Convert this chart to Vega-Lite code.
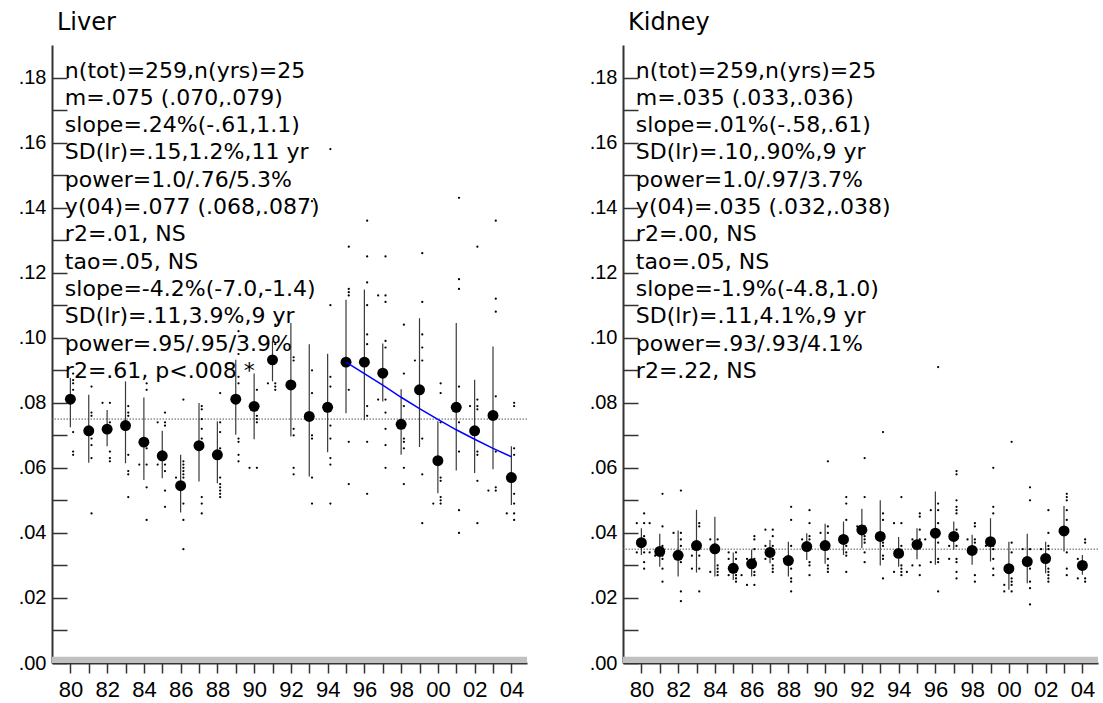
{
  "$schema": "https://vega.github.io/schema/vega-lite/v6.json",
  "background": "white",
  "padding": {"left": 18, "top": 11, "right": 0, "bottom": 0},
  "bounds": "flush",
  "spacing": 96,
  "config": {
    "view": {"stroke": null},
    "axis": {"labelColor": "#000", "domainColor": "#333", "domainWidth": 2, "tickColor": "#333", "tickWidth": 1.5, "grid": false},
    "title": {"anchor": "start", "frame": "group", "font": "DejaVu Sans", "fontSize": 24, "fontWeight": "normal", "color": "#000", "offset": 10, "dx": 5}
  },
  "datasets": {
    "info": [
      {"organ": "Liver", "m": 0.075, "stats": "n(tot)=259,n(yrs)=25\nm=.075 (.070,.079)\nslope=.24%(-.61,1.1)\nSD(lr)=.15,1.2%,11 yr\npower=1.0/.76/5.3%\ny(04)=.077 (.068,.087)\nr2=.01, NS\ntao=.05, NS\nslope=-4.2%(-7.0,-1.4)\nSD(lr)=.11,3.9%,9 yr\npower=.95/.95/3.9%\nr2=.61, p<.008 *"},
      {"organ": "Kidney", "m": 0.035, "stats": "n(tot)=259,n(yrs)=25\nm=.035 (.033,.036)\nslope=.01%(-.58,.61)\nSD(lr)=.10,.90%,9 yr\npower=1.0/.97/3.7%\ny(04)=.035 (.032,.038)\nr2=.00, NS\ntao=.05, NS\nslope=-1.9%(-4.8,1.0)\nSD(lr)=.11,4.1%,9 yr\npower=.93/.93/4.1%\nr2=.22, NS"}
    ],
    "liver_fit": [
      {"year": 1995, "fit": 0.0925}, {"year": 1996, "fit": 0.0890}, {"year": 1997, "fit": 0.0854}, {"year": 1998, "fit": 0.0817}, {"year": 1999, "fit": 0.0782},
      {"year": 2000, "fit": 0.0749}, {"year": 2001, "fit": 0.0717}, {"year": 2002, "fit": 0.0688}, {"year": 2003, "fit": 0.0660}, {"year": 2004, "fit": 0.0634}
    ],
    "liver_yrs": [
      {"year": 1980, "mean": 0.0811, "lo": 0.0725, "hi": 0.0876},
      {"year": 1981, "mean": 0.0714, "lo": 0.0616, "hi": 0.0825},
      {"year": 1982, "mean": 0.0719, "lo": 0.0666, "hi": 0.0778},
      {"year": 1983, "mean": 0.0730, "lo": 0.0614, "hi": 0.0866},
      {"year": 1984, "mean": 0.0679, "lo": 0.0563, "hi": 0.0816},
      {"year": 1985, "mean": 0.0637, "lo": 0.0568, "hi": 0.0714},
      {"year": 1986, "mean": 0.0545, "lo": 0.0463, "hi": 0.0640},
      {"year": 1987, "mean": 0.0668, "lo": 0.0558, "hi": 0.0799},
      {"year": 1988, "mean": 0.0640, "lo": 0.0553, "hi": 0.0743},
      {"year": 1989, "mean": 0.0811, "lo": 0.0702, "hi": 0.0932},
      {"year": 1990, "mean": 0.0789, "lo": 0.0688, "hi": 0.0890},
      {"year": 1991, "mean": 0.0932, "lo": 0.0866, "hi": 0.0990},
      {"year": 1992, "mean": 0.0855, "lo": 0.0696, "hi": 0.1045},
      {"year": 1993, "mean": 0.0758, "lo": 0.0573, "hi": 0.0980},
      {"year": 1994, "mean": 0.0786, "lo": 0.0648, "hi": 0.0951},
      {"year": 1995, "mean": 0.0925, "lo": 0.0768, "hi": 0.1117},
      {"year": 1996, "mean": 0.0925, "lo": 0.0746, "hi": 0.1148},
      {"year": 1997, "mean": 0.0891, "lo": 0.0804, "hi": 0.0982},
      {"year": 1998, "mean": 0.0734, "lo": 0.0640, "hi": 0.0842},
      {"year": 1999, "mean": 0.0840, "lo": 0.0664, "hi": 0.1060},
      {"year": 2000, "mean": 0.0622, "lo": 0.0522, "hi": 0.0743},
      {"year": 2001, "mean": 0.0786, "lo": 0.0592, "hi": 0.1045},
      {"year": 2002, "mean": 0.0714, "lo": 0.0584, "hi": 0.0871},
      {"year": 2003, "mean": 0.0761, "lo": 0.0596, "hi": 0.0973},
      {"year": 2004, "mean": 0.0570, "lo": 0.0486, "hi": 0.0666}
    ],
    "kidney_yrs": [
      {"year": 1980, "mean": 0.0370, "lo": 0.0332, "hi": 0.0414},
      {"year": 1981, "mean": 0.0343, "lo": 0.0296, "hi": 0.0397},
      {"year": 1982, "mean": 0.0331, "lo": 0.0266, "hi": 0.0407},
      {"year": 1983, "mean": 0.0361, "lo": 0.0278, "hi": 0.0471},
      {"year": 1984, "mean": 0.0351, "lo": 0.0266, "hi": 0.0450},
      {"year": 1985, "mean": 0.0291, "lo": 0.0255, "hi": 0.0340},
      {"year": 1986, "mean": 0.0305, "lo": 0.0266, "hi": 0.0348},
      {"year": 1987, "mean": 0.0340, "lo": 0.0307, "hi": 0.0378},
      {"year": 1988, "mean": 0.0315, "lo": 0.0266, "hi": 0.0373},
      {"year": 1989, "mean": 0.0358, "lo": 0.0317, "hi": 0.0399},
      {"year": 1990, "mean": 0.0361, "lo": 0.0305, "hi": 0.0428},
      {"year": 1991, "mean": 0.0380, "lo": 0.0332, "hi": 0.0435},
      {"year": 1992, "mean": 0.0409, "lo": 0.0353, "hi": 0.0474},
      {"year": 1993, "mean": 0.0389, "lo": 0.0300, "hi": 0.0500},
      {"year": 1994, "mean": 0.0337, "lo": 0.0296, "hi": 0.0387},
      {"year": 1995, "mean": 0.0364, "lo": 0.0319, "hi": 0.0414},
      {"year": 1996, "mean": 0.0399, "lo": 0.0302, "hi": 0.0527},
      {"year": 1997, "mean": 0.0389, "lo": 0.0348, "hi": 0.0435},
      {"year": 1998, "mean": 0.0346, "lo": 0.0302, "hi": 0.0394},
      {"year": 1999, "mean": 0.0373, "lo": 0.0312, "hi": 0.0445},
      {"year": 2000, "mean": 0.0290, "lo": 0.0225, "hi": 0.0373},
      {"year": 2001, "mean": 0.0312, "lo": 0.0245, "hi": 0.0397},
      {"year": 2002, "mean": 0.0321, "lo": 0.0276, "hi": 0.0373},
      {"year": 2003, "mean": 0.0406, "lo": 0.0343, "hi": 0.0483},
      {"year": 2004, "mean": 0.0300, "lo": 0.0271, "hi": 0.0332}
    ],
    "liver_pts": [
      {"t": 1980.15, "v": 0.089}, {"t": 1980.15, "v": 0.087}, {"t": 1980.15, "v": 0.086}, {"t": 1980.15, "v": 0.084}, {"t": 1980.15, "v": 0.071}, {"t": 1980.15, "v": 0.065}, {"t": 1980.15, "v": 0.064},
      {"t": 1981.15, "v": 0.085}, {"t": 1981.15, "v": 0.077}, {"t": 1981.15, "v": 0.076}, {"t": 1981.15, "v": 0.069}, {"t": 1981.15, "v": 0.067}, {"t": 1981.15, "v": 0.063}, {"t": 1981.15, "v": 0.046},
      {"t": 1981.75, "v": 0.080}, {"t": 1982.15, "v": 0.080}, {"t": 1982.15, "v": 0.074}, {"t": 1982.15, "v": 0.071}, {"t": 1982.15, "v": 0.065}, {"t": 1982.15, "v": 0.063}, {"t": 1982.15, "v": 0.062},
      {"t": 1983.15, "v": 0.079}, {"t": 1983.15, "v": 0.077}, {"t": 1983.15, "v": 0.076}, {"t": 1983.15, "v": 0.064}, {"t": 1983.15, "v": 0.059}, {"t": 1983.15, "v": 0.058}, {"t": 1983.15, "v": 0.051},
      {"t": 1984.15, "v": 0.086}, {"t": 1984.15, "v": 0.084}, {"t": 1984.15, "v": 0.066}, {"t": 1984.15, "v": 0.061}, {"t": 1984.15, "v": 0.054}, {"t": 1984.15, "v": 0.044}, {"t": 1983.75, "v": 0.061},
      {"t": 1985.15, "v": 0.077}, {"t": 1985.15, "v": 0.074}, {"t": 1985.15, "v": 0.073}, {"t": 1985.15, "v": 0.061}, {"t": 1985.15, "v": 0.059}, {"t": 1985.15, "v": 0.053}, {"t": 1985.15, "v": 0.048}, {"t": 1984.75, "v": 0.074}, {"t": 1984.75, "v": 0.061},
      {"t": 1986.15, "v": 0.081}, {"t": 1986.15, "v": 0.062}, {"t": 1986.15, "v": 0.061}, {"t": 1986.15, "v": 0.060}, {"t": 1986.15, "v": 0.059}, {"t": 1986.15, "v": 0.058}, {"t": 1986.15, "v": 0.057}, {"t": 1986.15, "v": 0.049}, {"t": 1986.15, "v": 0.044}, {"t": 1986.15, "v": 0.035}, {"t": 1985.75, "v": 0.057},
      {"t": 1987.15, "v": 0.079}, {"t": 1987.15, "v": 0.078}, {"t": 1987.15, "v": 0.075}, {"t": 1987.15, "v": 0.072}, {"t": 1987.15, "v": 0.069}, {"t": 1987.15, "v": 0.051}, {"t": 1987.15, "v": 0.049}, {"t": 1987.15, "v": 0.046},
      {"t": 1988.15, "v": 0.083}, {"t": 1988.15, "v": 0.074}, {"t": 1988.15, "v": 0.071}, {"t": 1988.15, "v": 0.066}, {"t": 1988.15, "v": 0.065}, {"t": 1988.15, "v": 0.057}, {"t": 1988.15, "v": 0.055}, {"t": 1988.15, "v": 0.054}, {"t": 1988.15, "v": 0.053}, {"t": 1988.15, "v": 0.052}, {"t": 1988.15, "v": 0.051},
      {"t": 1989.15, "v": 0.102}, {"t": 1989.15, "v": 0.095}, {"t": 1989.15, "v": 0.088}, {"t": 1989.15, "v": 0.086}, {"t": 1989.15, "v": 0.069}, {"t": 1989.15, "v": 0.068}, {"t": 1989.15, "v": 0.064}, {"t": 1989.15, "v": 0.062},
      {"t": 1990.15, "v": 0.084}, {"t": 1990.15, "v": 0.076}, {"t": 1990.15, "v": 0.075}, {"t": 1990.15, "v": 0.074}, {"t": 1990.15, "v": 0.060}, {"t": 1989.75, "v": 0.060},
      {"t": 1991.15, "v": 0.104}, {"t": 1991.15, "v": 0.098}, {"t": 1991.15, "v": 0.086}, {"t": 1991.15, "v": 0.085}, {"t": 1991.15, "v": 0.084}, {"t": 1990.75, "v": 0.086},
      {"t": 1992.15, "v": 0.094}, {"t": 1992.15, "v": 0.093}, {"t": 1992.15, "v": 0.072}, {"t": 1992.15, "v": 0.070}, {"t": 1992.15, "v": 0.060}, {"t": 1992.15, "v": 0.058},
      {"t": 1993.15, "v": 0.142}, {"t": 1993.15, "v": 0.090}, {"t": 1993.15, "v": 0.083}, {"t": 1993.15, "v": 0.070}, {"t": 1993.15, "v": 0.069}, {"t": 1993.15, "v": 0.057}, {"t": 1993.15, "v": 0.049},
      {"t": 1994.15, "v": 0.158}, {"t": 1994.15, "v": 0.110}, {"t": 1994.15, "v": 0.088}, {"t": 1994.15, "v": 0.085}, {"t": 1994.15, "v": 0.073}, {"t": 1994.15, "v": 0.069}, {"t": 1994.15, "v": 0.063}, {"t": 1994.15, "v": 0.061}, {"t": 1994.15, "v": 0.049},
      {"t": 1995.15, "v": 0.128}, {"t": 1995.15, "v": 0.115}, {"t": 1995.15, "v": 0.114}, {"t": 1995.15, "v": 0.113}, {"t": 1995.15, "v": 0.084}, {"t": 1995.15, "v": 0.068}, {"t": 1995.15, "v": 0.055},
      {"t": 1996.15, "v": 0.136}, {"t": 1996.15, "v": 0.125}, {"t": 1996.15, "v": 0.117}, {"t": 1996.15, "v": 0.110}, {"t": 1996.15, "v": 0.101}, {"t": 1996.15, "v": 0.098}, {"t": 1996.15, "v": 0.079}, {"t": 1996.15, "v": 0.076}, {"t": 1996.15, "v": 0.068}, {"t": 1996.15, "v": 0.052},
      {"t": 1997.15, "v": 0.125}, {"t": 1997.15, "v": 0.113}, {"t": 1997.15, "v": 0.111}, {"t": 1997.15, "v": 0.099}, {"t": 1997.15, "v": 0.097}, {"t": 1997.15, "v": 0.081}, {"t": 1997.15, "v": 0.077}, {"t": 1997.15, "v": 0.072}, {"t": 1997.15, "v": 0.067}, {"t": 1997.15, "v": 0.060}, {"t": 1996.75, "v": 0.113}, {"t": 1996.75, "v": 0.081},
      {"t": 1998.15, "v": 0.104}, {"t": 1998.15, "v": 0.089}, {"t": 1998.15, "v": 0.079}, {"t": 1998.15, "v": 0.069}, {"t": 1998.15, "v": 0.068}, {"t": 1998.15, "v": 0.066}, {"t": 1998.15, "v": 0.060}, {"t": 1998.15, "v": 0.055},
      {"t": 1999.15, "v": 0.126}, {"t": 1999.15, "v": 0.111}, {"t": 1999.15, "v": 0.101}, {"t": 1999.15, "v": 0.097}, {"t": 1999.15, "v": 0.093}, {"t": 1999.15, "v": 0.069}, {"t": 1999.15, "v": 0.058}, {"t": 1999.15, "v": 0.043}, {"t": 1998.75, "v": 0.093},
      {"t": 2000.15, "v": 0.086}, {"t": 2000.15, "v": 0.083}, {"t": 2000.15, "v": 0.074}, {"t": 2000.15, "v": 0.057}, {"t": 2000.15, "v": 0.056}, {"t": 2000.15, "v": 0.051}, {"t": 2000.15, "v": 0.050}, {"t": 2000.15, "v": 0.049}, {"t": 1999.75, "v": 0.049},
      {"t": 2001.15, "v": 0.143}, {"t": 2001.15, "v": 0.118}, {"t": 2001.15, "v": 0.115}, {"t": 2001.15, "v": 0.085}, {"t": 2001.15, "v": 0.074}, {"t": 2001.15, "v": 0.065}, {"t": 2001.15, "v": 0.047}, {"t": 2001.15, "v": 0.040},
      {"t": 2002.15, "v": 0.128}, {"t": 2002.15, "v": 0.081}, {"t": 2002.15, "v": 0.079}, {"t": 2002.15, "v": 0.078}, {"t": 2002.15, "v": 0.065}, {"t": 2002.15, "v": 0.064}, {"t": 2002.15, "v": 0.056}, {"t": 2002.15, "v": 0.043}, {"t": 2001.75, "v": 0.079},
      {"t": 2003.15, "v": 0.136}, {"t": 2003.15, "v": 0.112}, {"t": 2003.15, "v": 0.108}, {"t": 2003.15, "v": 0.082}, {"t": 2003.15, "v": 0.065}, {"t": 2003.15, "v": 0.054}, {"t": 2003.15, "v": 0.053}, {"t": 2002.75, "v": 0.053},
      {"t": 2004.15, "v": 0.080}, {"t": 2004.15, "v": 0.079}, {"t": 2004.15, "v": 0.066}, {"t": 2004.15, "v": 0.064}, {"t": 2004.15, "v": 0.052}, {"t": 2004.15, "v": 0.049}, {"t": 2004.15, "v": 0.046}, {"t": 2004.15, "v": 0.044}, {"t": 2003.75, "v": 0.046}
    ],
    "kidney_pts": [
      {"t": 1980.15, "v": 0.046}, {"t": 1980.15, "v": 0.043}, {"t": 1980.15, "v": 0.039}, {"t": 1980.15, "v": 0.034}, {"t": 1980.15, "v": 0.031}, {"t": 1980.15, "v": 0.029}, {"t": 1979.75, "v": 0.043}, {"t": 1979.75, "v": 0.034}, {"t": 1980.45, "v": 0.043}, {"t": 1980.45, "v": 0.034},
      {"t": 1981.15, "v": 0.052}, {"t": 1981.15, "v": 0.042}, {"t": 1981.15, "v": 0.036}, {"t": 1981.15, "v": 0.033}, {"t": 1981.15, "v": 0.032}, {"t": 1981.15, "v": 0.029}, {"t": 1981.15, "v": 0.025}, {"t": 1980.75, "v": 0.033},
      {"t": 1982.15, "v": 0.053}, {"t": 1982.15, "v": 0.040}, {"t": 1982.15, "v": 0.038}, {"t": 1982.15, "v": 0.036}, {"t": 1982.15, "v": 0.033}, {"t": 1982.15, "v": 0.031}, {"t": 1982.15, "v": 0.022}, {"t": 1982.15, "v": 0.019}, {"t": 1981.75, "v": 0.040},
      {"t": 1983.15, "v": 0.043}, {"t": 1983.15, "v": 0.042}, {"t": 1983.15, "v": 0.036}, {"t": 1983.15, "v": 0.033}, {"t": 1983.15, "v": 0.029}, {"t": 1983.15, "v": 0.022}, {"t": 1982.75, "v": 0.033}, {"t": 1982.75, "v": 0.029},
      {"t": 1984.15, "v": 0.038}, {"t": 1984.15, "v": 0.030}, {"t": 1984.15, "v": 0.029}, {"t": 1984.15, "v": 0.028}, {"t": 1984.15, "v": 0.027}, {"t": 1983.75, "v": 0.038}, {"t": 1983.75, "v": 0.028},
      {"t": 1985.15, "v": 0.034}, {"t": 1985.15, "v": 0.032}, {"t": 1985.15, "v": 0.029}, {"t": 1985.15, "v": 0.028}, {"t": 1985.15, "v": 0.027}, {"t": 1985.15, "v": 0.026}, {"t": 1985.15, "v": 0.025}, {"t": 1984.75, "v": 0.034}, {"t": 1984.75, "v": 0.032}, {"t": 1984.75, "v": 0.027}, {"t": 1985.45, "v": 0.027},
      {"t": 1986.15, "v": 0.039}, {"t": 1986.15, "v": 0.038}, {"t": 1986.15, "v": 0.035}, {"t": 1986.15, "v": 0.032}, {"t": 1986.15, "v": 0.028}, {"t": 1986.15, "v": 0.027}, {"t": 1986.15, "v": 0.024}, {"t": 1985.75, "v": 0.032}, {"t": 1985.75, "v": 0.024},
      {"t": 1987.15, "v": 0.041}, {"t": 1987.15, "v": 0.039}, {"t": 1987.15, "v": 0.036}, {"t": 1987.15, "v": 0.032}, {"t": 1987.15, "v": 0.030}, {"t": 1987.15, "v": 0.029}, {"t": 1987.15, "v": 0.028}, {"t": 1986.75, "v": 0.041}, {"t": 1986.75, "v": 0.036}, {"t": 1986.75, "v": 0.032},
      {"t": 1988.15, "v": 0.048}, {"t": 1988.15, "v": 0.044}, {"t": 1988.15, "v": 0.036}, {"t": 1988.15, "v": 0.032}, {"t": 1988.15, "v": 0.029}, {"t": 1988.15, "v": 0.026}, {"t": 1988.15, "v": 0.025}, {"t": 1988.15, "v": 0.022}, {"t": 1987.75, "v": 0.032},
      {"t": 1989.15, "v": 0.047}, {"t": 1989.15, "v": 0.043}, {"t": 1989.15, "v": 0.039}, {"t": 1989.15, "v": 0.038}, {"t": 1989.15, "v": 0.031}, {"t": 1989.15, "v": 0.030}, {"t": 1989.15, "v": 0.027}, {"t": 1988.75, "v": 0.038},
      {"t": 1990.15, "v": 0.062}, {"t": 1990.15, "v": 0.042}, {"t": 1990.15, "v": 0.040}, {"t": 1990.15, "v": 0.035}, {"t": 1990.15, "v": 0.032}, {"t": 1990.15, "v": 0.030}, {"t": 1990.15, "v": 0.029}, {"t": 1990.15, "v": 0.028}, {"t": 1989.75, "v": 0.040},
      {"t": 1991.15, "v": 0.051}, {"t": 1991.15, "v": 0.049}, {"t": 1991.15, "v": 0.044}, {"t": 1991.15, "v": 0.036}, {"t": 1991.15, "v": 0.034}, {"t": 1991.15, "v": 0.033}, {"t": 1991.15, "v": 0.028},
      {"t": 1992.15, "v": 0.063}, {"t": 1992.15, "v": 0.051}, {"t": 1992.15, "v": 0.042}, {"t": 1992.15, "v": 0.039}, {"t": 1992.15, "v": 0.038}, {"t": 1992.15, "v": 0.037}, {"t": 1992.15, "v": 0.034}, {"t": 1992.15, "v": 0.031}, {"t": 1991.75, "v": 0.042},
      {"t": 1993.15, "v": 0.071}, {"t": 1993.15, "v": 0.046}, {"t": 1993.15, "v": 0.044}, {"t": 1993.15, "v": 0.039}, {"t": 1993.15, "v": 0.037}, {"t": 1993.15, "v": 0.036}, {"t": 1993.15, "v": 0.033}, {"t": 1993.15, "v": 0.032}, {"t": 1993.15, "v": 0.026},
      {"t": 1994.15, "v": 0.051}, {"t": 1994.15, "v": 0.043}, {"t": 1994.15, "v": 0.036}, {"t": 1994.15, "v": 0.030}, {"t": 1994.15, "v": 0.029}, {"t": 1994.15, "v": 0.028}, {"t": 1994.15, "v": 0.027}, {"t": 1993.75, "v": 0.043}, {"t": 1993.75, "v": 0.028}, {"t": 1994.45, "v": 0.028},
      {"t": 1995.15, "v": 0.046}, {"t": 1995.15, "v": 0.045}, {"t": 1995.15, "v": 0.041}, {"t": 1995.15, "v": 0.038}, {"t": 1995.15, "v": 0.030}, {"t": 1995.15, "v": 0.027}, {"t": 1994.75, "v": 0.038}, {"t": 1994.75, "v": 0.030}, {"t": 1995.45, "v": 0.038},
      {"t": 1996.15, "v": 0.091}, {"t": 1996.15, "v": 0.049}, {"t": 1996.15, "v": 0.047}, {"t": 1996.15, "v": 0.043}, {"t": 1996.15, "v": 0.037}, {"t": 1996.15, "v": 0.032}, {"t": 1996.15, "v": 0.031}, {"t": 1996.15, "v": 0.022}, {"t": 1995.75, "v": 0.047}, {"t": 1995.75, "v": 0.031},
      {"t": 1997.15, "v": 0.059}, {"t": 1997.15, "v": 0.058}, {"t": 1997.15, "v": 0.050}, {"t": 1997.15, "v": 0.048}, {"t": 1997.15, "v": 0.047}, {"t": 1997.15, "v": 0.046}, {"t": 1997.15, "v": 0.041}, {"t": 1997.15, "v": 0.036}, {"t": 1997.15, "v": 0.032}, {"t": 1997.15, "v": 0.031}, {"t": 1997.15, "v": 0.028}, {"t": 1997.15, "v": 0.026}, {"t": 1996.75, "v": 0.036}, {"t": 1996.75, "v": 0.032},
      {"t": 1998.15, "v": 0.043}, {"t": 1998.15, "v": 0.042}, {"t": 1998.15, "v": 0.038}, {"t": 1998.15, "v": 0.037}, {"t": 1998.15, "v": 0.027}, {"t": 1998.15, "v": 0.025}, {"t": 1997.75, "v": 0.038},
      {"t": 1999.15, "v": 0.060}, {"t": 1999.15, "v": 0.048}, {"t": 1999.15, "v": 0.046}, {"t": 1999.15, "v": 0.036}, {"t": 1999.15, "v": 0.035}, {"t": 1999.15, "v": 0.032}, {"t": 1999.15, "v": 0.029}, {"t": 1999.15, "v": 0.027}, {"t": 1998.75, "v": 0.036},
      {"t": 2000.15, "v": 0.068}, {"t": 2000.15, "v": 0.037}, {"t": 2000.15, "v": 0.034}, {"t": 2000.15, "v": 0.026}, {"t": 2000.15, "v": 0.025}, {"t": 2000.15, "v": 0.024}, {"t": 2000.15, "v": 0.022}, {"t": 1999.75, "v": 0.024}, {"t": 1999.75, "v": 0.022},
      {"t": 2001.15, "v": 0.054}, {"t": 2001.15, "v": 0.050}, {"t": 2001.15, "v": 0.035}, {"t": 2001.15, "v": 0.029}, {"t": 2001.15, "v": 0.025}, {"t": 2001.15, "v": 0.023}, {"t": 2001.15, "v": 0.018}, {"t": 2000.75, "v": 0.035},
      {"t": 2002.15, "v": 0.047}, {"t": 2002.15, "v": 0.040}, {"t": 2002.15, "v": 0.036}, {"t": 2002.15, "v": 0.035}, {"t": 2002.15, "v": 0.033}, {"t": 2002.15, "v": 0.029}, {"t": 2002.15, "v": 0.028}, {"t": 2002.15, "v": 0.027}, {"t": 2002.15, "v": 0.026}, {"t": 2002.15, "v": 0.025}, {"t": 2001.75, "v": 0.035},
      {"t": 2003.15, "v": 0.052}, {"t": 2003.15, "v": 0.051}, {"t": 2003.15, "v": 0.050}, {"t": 2003.15, "v": 0.047}, {"t": 2003.15, "v": 0.044}, {"t": 2003.15, "v": 0.034}, {"t": 2003.15, "v": 0.029}, {"t": 2003.15, "v": 0.027},
      {"t": 2004.15, "v": 0.038}, {"t": 2004.15, "v": 0.037}, {"t": 2004.15, "v": 0.031}, {"t": 2004.15, "v": 0.030}, {"t": 2004.15, "v": 0.029}, {"t": 2004.15, "v": 0.026}, {"t": 2004.15, "v": 0.025}, {"t": 2003.75, "v": 0.032}, {"t": 2003.75, "v": 0.026}
    ]
  },
  "hconcat": [
    {
      "width": 475, "height": 618,
      "title": {"text": "Liver"},
      "encoding": {
        "x": {"type": "quantitative", "scale": {"domain": [1979, 2004.85], "nice": false, "zero": false},
              "axis": {"title": null, "values": [1980,1981,1982,1983,1984,1985,1986,1987,1988,1989,1990,1991,1992,1993,1994,1995,1996,1997,1998,1999,2000,2001,2002,2003,2004], "labelExpr": "datum.value % 2 === 0 ? slice(toString(datum.value), 2) : ''", "tickSize": 10, "labelPadding": 6, "labelOverlap": false, "labelFlush": false, "labelFont": "Liberation Sans", "labelFontSize": 22}},
        "y": {"type": "quantitative", "scale": {"domain": [0, 0.19], "nice": false, "zero": false},
              "axis": {"title": null, "values": [0,0.01,0.02,0.03,0.04,0.05,0.06,0.07,0.08,0.09,0.1,0.11,0.12,0.13,0.14,0.15,0.16,0.17,0.18], "labelExpr": "round(datum.value*100) % 2 === 0 ? replace(format(datum.value, '.2f'), '0.', '.') : ''", "tickSize": -15, "labelPadding": 21, "labelOverlap": false, "labelFont": "Liberation Sans", "labelFontSize": 20}}
      },
      "layer": [
        {
          "data": {"name": "info"},
          "transform": [{"filter": "datum.organ === 'Liver'"}],
          "mark": {"type": "rect", "color": "#c0c0c0"},
          "encoding": {"x": {"datum": 1979}, "x2": {"datum": 2004.85}, "y": {"datum": 0}, "y2": {"datum": 0.0019}}
        },
        {
          "data": {"name": "info"},
          "transform": [{"filter": "datum.organ === 'Liver'"}],
          "mark": {"type": "rule", "color": "#555", "strokeDash": [1.5, 1.5], "strokeWidth": 1},
          "encoding": {"x": null, "y": {"field": "m"}}
        },
        {
          "data": {"name": "liver_yrs"},
          "mark": {"type": "rule", "color": "#3a3a3a", "strokeWidth": 1.2},
          "encoding": {"x": {"field": "year"}, "y": {"field": "lo"}, "y2": {"field": "hi"}}
        },
        {
          "data": {"name": "liver_pts"},
          "mark": {"type": "circle", "size": 5, "color": "#000", "opacity": 1},
          "encoding": {"x": {"field": "t"}, "y": {"field": "v"}}
        },
        {
          "data": {"name": "liver_yrs"},
          "mark": {"type": "circle", "size": 120, "color": "#000", "opacity": 1},
          "encoding": {"x": {"field": "year"}, "y": {"field": "mean"}}
        },
        {
          "data": {"name": "liver_fit"},
          "mark": {"type": "line", "color": "#0000ff", "strokeWidth": 1.5},
          "encoding": {"x": {"field": "year"}, "y": {"field": "fit"}}
        },
        {
          "data": {"name": "info"},
          "transform": [{"filter": "datum.organ === 'Liver'"}],
          "mark": {"type": "text", "align": "left", "baseline": "alphabetic", "font": "DejaVu Sans", "fontSize": 22, "lineBreak": "\n", "lineHeight": 27.3, "color": "#000"},
          "encoding": {"x": {"datum": 1979.7}, "y": {"datum": 0.18}, "text": {"field": "stats"}}
        }
      ]
    },
    {
      "width": 475, "height": 618,
      "title": {"text": "Kidney"},
      "encoding": {
        "x": {"type": "quantitative", "scale": {"domain": [1979, 2004.85], "nice": false, "zero": false},
              "axis": {"title": null, "values": [1980,1981,1982,1983,1984,1985,1986,1987,1988,1989,1990,1991,1992,1993,1994,1995,1996,1997,1998,1999,2000,2001,2002,2003,2004], "labelExpr": "datum.value % 2 === 0 ? slice(toString(datum.value), 2) : ''", "tickSize": 10, "labelPadding": 6, "labelOverlap": false, "labelFlush": false, "labelFont": "Liberation Sans", "labelFontSize": 22}},
        "y": {"type": "quantitative", "scale": {"domain": [0, 0.19], "nice": false, "zero": false},
              "axis": {"title": null, "values": [0,0.01,0.02,0.03,0.04,0.05,0.06,0.07,0.08,0.09,0.1,0.11,0.12,0.13,0.14,0.15,0.16,0.17,0.18], "labelExpr": "round(datum.value*100) % 2 === 0 ? replace(format(datum.value, '.2f'), '0.', '.') : ''", "tickSize": -15, "labelPadding": 21, "labelOverlap": false, "labelFont": "Liberation Sans", "labelFontSize": 20}}
      },
      "layer": [
        {
          "data": {"name": "info"},
          "transform": [{"filter": "datum.organ === 'Kidney'"}],
          "mark": {"type": "rect", "color": "#c0c0c0"},
          "encoding": {"x": {"datum": 1979}, "x2": {"datum": 2004.85}, "y": {"datum": 0}, "y2": {"datum": 0.0019}}
        },
        {
          "data": {"name": "info"},
          "transform": [{"filter": "datum.organ === 'Kidney'"}],
          "mark": {"type": "rule", "color": "#555", "strokeDash": [1.5, 1.5], "strokeWidth": 1},
          "encoding": {"x": null, "y": {"field": "m"}}
        },
        {
          "data": {"name": "kidney_yrs"},
          "mark": {"type": "rule", "color": "#3a3a3a", "strokeWidth": 1.2},
          "encoding": {"x": {"field": "year"}, "y": {"field": "lo"}, "y2": {"field": "hi"}}
        },
        {
          "data": {"name": "kidney_pts"},
          "mark": {"type": "circle", "size": 5, "color": "#000", "opacity": 1},
          "encoding": {"x": {"field": "t"}, "y": {"field": "v"}}
        },
        {
          "data": {"name": "kidney_yrs"},
          "mark": {"type": "circle", "size": 120, "color": "#000", "opacity": 1},
          "encoding": {"x": {"field": "year"}, "y": {"field": "mean"}}
        },
        {
          "data": {"name": "info"},
          "transform": [{"filter": "datum.organ === 'Kidney'"}],
          "mark": {"type": "text", "align": "left", "baseline": "alphabetic", "font": "DejaVu Sans", "fontSize": 22, "lineBreak": "\n", "lineHeight": 27.3, "color": "#000"},
          "encoding": {"x": {"datum": 1979.7}, "y": {"datum": 0.18}, "text": {"field": "stats"}}
        }
      ]
    }
  ]
}
